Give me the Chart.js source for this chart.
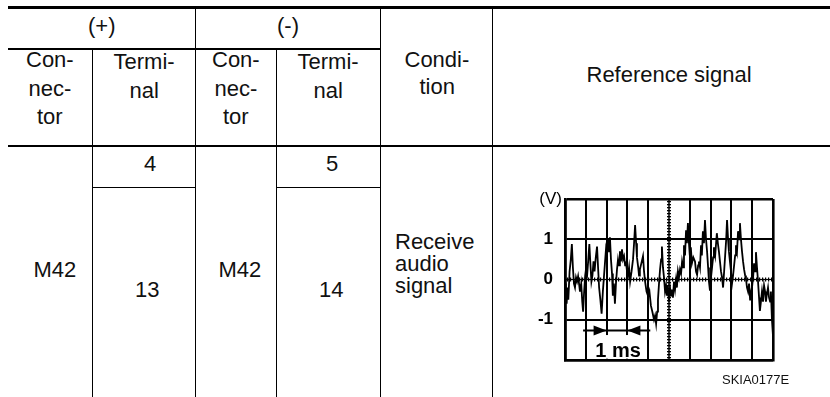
<!DOCTYPE html>
<html>
<head>
<meta charset="utf-8">
<script src="https://cdn.jsdelivr.net/npm/chart.js@4.4.0/dist/chart.umd.min.js"></script>
<style>
  body { margin: 0; background: #fff; }
  #page { position: relative; width: 830px; height: 397px; overflow: hidden; font-family: "Liberation Sans", Arial, sans-serif; color: #111; }
  .ln { position: absolute; background: #000; }
  .t { position: absolute; font-size: 22px; line-height: 22px; white-space: nowrap; }
  #sig { position: absolute; left: 500px; top: 150px; }
</style>
</head>
<body>
<div id="page">
  <canvas id="sig" width="330" height="247"></canvas>
</div>
<script>
// oscilloscope trace, time in ms (1 ms per division), volts
var times = [
  0,0.04,0.08,0.12,0.16,0.22,0.28,0.33,0.38,0.43,
  0.48,0.53,0.58,0.63,0.68,0.72,0.78,0.83,0.87,0.92,
  0.97,1.02,1.07,1.12,1.17,1.22,1.27,1.32,1.37,1.42,
  1.48,1.54,1.59,1.64,1.7,1.76,1.82,1.87,1.92,1.97,
  2.02,2.07,2.12,2.16,2.21,2.26,2.3,2.35,2.4,2.45,
  2.5,2.55,2.6,2.64,2.69,2.74,2.79,2.84,2.89,2.93,
  2.98,3.03,3.08,3.13,3.2,3.27,3.32,3.37,3.42,3.46,
  3.52,3.56,3.6,3.67,3.75,3.8,3.85,3.92,4.0,4.06,
  4.13,4.2,4.28,4.33,4.38,4.43,4.47,4.52,4.57,4.62,
  4.66,4.71,4.76,4.81,4.86,4.9,4.95,5.0,5.05,5.1,
  5.14,5.19,5.24,5.29,5.34,5.38,5.43,5.48,5.53,5.58,
  5.63,5.68,5.72,5.77,5.82,5.86,5.91,5.96,6.0,6.05,
  6.1,6.17,6.25,6.3,6.35,6.4,6.44,6.49,6.54,6.58,
  6.63,6.68,6.73,6.78,6.83,6.88,6.92,6.97,7.02,7.07,
  7.12,7.16,7.22,7.3,7.35,7.4,7.45,7.5,7.55,7.6,
  7.65,7.7,7.75,7.79,7.84,7.88,7.93,7.98,8.03,8.08,
  8.13,8.18,8.22,8.27,8.32,8.37,8.41,8.46,8.51,8.56,
  8.61,8.66,8.7,8.75,8.8,8.85,8.9,8.95,9.0,9.05,
  9.09,9.14,9.18,9.23,9.28,9.33,9.37,9.42,9.47,9.52,
  9.57,9.62,9.66,9.71,9.76,9.81,9.86,9.9,9.95,10];
var volts = [
  -0.1,-0.45,-0.6,-0.2,-0.5,0.2,0.5,0.88,0.3,-0.1,
  -0.2,0.05,-0.05,0.08,-0.12,-0.3,-0.1,-0.55,-0.8,-0.3,
  0.1,0.3,0.15,0.5,0.88,0.4,-0.05,0.1,0.45,0.2,
  0.55,0.82,0.3,-0.2,-0.5,-0.85,-0.3,0.05,0.4,0.75,
  0.6,1.02,0.7,1.05,0.5,0.15,-0.4,-0.1,-0.6,-0.1,
  0.25,0.5,0.35,0.7,0.45,0.75,0.5,0.58,0.35,0.45,
  0.2,0.1,0.3,-0.05,0.2,0.5,0.9,1.35,0.9,0.55,
  0.3,0.1,0.25,0.4,0.58,0.2,-0.05,-0.3,-0.42,-0.3,
  -0.65,-0.8,-1.0,-0.9,-1.1,-0.8,-0.5,-0.1,0.25,0.5,
  0.82,0.3,0.05,-0.3,-0.15,-0.4,-0.25,-0.55,-0.2,-0.4,
  -0.25,-0.45,-0.05,-0.25,0,-0.2,0.2,0.05,0.25,0.15,
  0.45,0.3,0.85,0.6,1.22,0.9,1.4,0.9,0.6,0.8,
  0.4,0.55,0.45,0.2,0.12,0.35,0.45,0.3,0.85,0.6,
  1.2,0.9,1.48,1.0,0.7,0.3,-0.05,-0.28,0.05,0.3,
  0.55,0.8,0.6,1.15,0.9,0.7,0.45,0.2,0.05,-0.2,
  0.2,0.6,1.0,1.48,1.0,0.7,0.45,0.2,-0.1,0.1,
  0.35,0.6,0.85,0.7,1.2,1.0,1.4,1.0,0.7,0.45,
  0.25,0.1,0.02,-0.2,-0.3,-0.1,-0.52,-0.3,-0.15,0.1,
  0.4,0.2,0.68,0.3,-0.05,-0.45,-0.78,-0.55,-0.3,-0.55,
  -0.15,-0.3,-0.55,-0.35,-0.2,-0.45,-0.55,-0.3,-1.0,-1.4];
var voltLabels = [1, 0, -1];

// table text: [text, x, baseline, align]
var cells = [
  ['(+)', 102, 34, 'c'], ['(-)', 288, 34, 'c'],
  ['Con-', 50, 68, 'c'], ['nec-', 50, 97, 'c'], ['tor', 50, 125, 'c'],
  ['Termi-', 144, 70, 'c'], ['nal', 144, 99, 'c'],
  ['Con-', 236, 68, 'c'], ['nec-', 236, 97, 'c'], ['tor', 236, 125, 'c'],
  ['Termi-', 328, 70, 'c'], ['nal', 328, 99, 'c'],
  ['Condi-', 437, 68, 'c'], ['tion', 437, 95, 'c'],
  ['Reference signal', 669, 83, 'c'],
  ['4', 150, 172, 'c'], ['5', 332, 172, 'c'],
  ['M42', 55, 278, 'c'], ['13', 147, 298, 'c'],
  ['M42', 240, 278, 'c'], ['14', 331, 298, 'c'],
  ['Receive', 395, 250, 'l'], ['audio', 395, 272, 'l'], ['signal', 395, 294, 'l']
];
// rules: [left, top, width, height]
var rules = [
  [8, 6, 822, 3], [8, 48, 372, 1.7], [8, 144.5, 822, 2.3],
  [92, 186.5, 103, 1.5], [276, 186.5, 104, 1.5],
  [91.5, 48, 1.7, 349], [194.5, 8, 1.7, 389], [275.5, 48, 1.7, 349],
  [379.5, 8, 1.7, 389], [491.5, 8, 1.7, 389]
];

var page = document.getElementById('page');
rules.forEach(function (r) {
  var d = document.createElement('div');
  d.className = 'ln';
  d.style.left = r[0] + 'px'; d.style.top = r[1] + 'px';
  d.style.width = r[2] + 'px'; d.style.height = r[3] + 'px';
  page.appendChild(d);
});
cells.forEach(function (c) {
  var d = document.createElement('div');
  d.className = 't';
  d.textContent = c[0];
  d.style.top = (c[2] - 18.6) + 'px';
  page.appendChild(d);
  if (c[3] === 'c') d.style.left = (c[1] - d.offsetWidth / 2) + 'px';
  else d.style.left = c[1] + 'px';
});
var code = document.createElement('div');
code.className = 't';
code.style.fontSize = '13px'; code.style.lineHeight = '13px';
code.textContent = 'SKIA0177E';
code.style.top = (384 - 11) + 'px';
page.appendChild(code);
code.style.left = (789 - code.offsetWidth) + 'px';

// extras on the scope face: dotted centre lines, 1 ms marker, (V)
var scopePlugin = {
  id: 'scope',
  beforeDatasetsDraw: function (chart) {
    var ctx = chart.ctx, xs = chart.scales.x, ys = chart.scales.y, a = chart.chartArea;
    ctx.save();
    ctx.fillStyle = '#000';
    var cx = xs.getPixelForValue(5), cy = ys.getPixelForValue(0);
    ctx.fillRect(cx - 0.75, a.top, 1.5, a.bottom - a.top);
    for (var y = a.top + 2; y < a.bottom; y += 3) ctx.fillRect(cx - 2, y, 4, 1.3);
    ctx.fillRect(a.left, cy - 0.6, a.right - a.left, 1.2);
    for (var x = a.left + 2; x < a.right; x += 3) ctx.fillRect(x, cy - 2, 1.2, 4);

    // white label box
    var bx0 = xs.getPixelForValue(1) + 1.2, bx1 = xs.getPixelForValue(4) - 1.2;
    var by0 = ys.getPixelForValue(-1.38), by1 = a.bottom - 1.3;
    ctx.fillStyle = '#fff';
    ctx.fillRect(bx0, by0, bx1 - bx0, by1 - by0);
    ctx.fillStyle = '#000';
    ctx.font = 'bold 20px "Liberation Sans", Arial, sans-serif';
    ctx.textAlign = 'center';
    ctx.textBaseline = 'alphabetic';
    ctx.fillText('1 ms', (bx0 + bx1) / 2 + 1, a.bottom - 3);

    // arrows
    var ay = ys.getPixelForValue(-1.27);
    ctx.strokeStyle = '#000';
    ctx.lineWidth = 2;
    ctx.beginPath();
    ctx.moveTo(xs.getPixelForValue(0.87), ay);
    ctx.lineTo(xs.getPixelForValue(4.1), ay);
    ctx.stroke();
    var t1 = xs.getPixelForValue(2), t2 = xs.getPixelForValue(3);
    ctx.beginPath();
    ctx.moveTo(t1, ay); ctx.lineTo(t1 - 13, ay - 5); ctx.lineTo(t1 - 13, ay + 5); ctx.closePath();
    ctx.moveTo(t2, ay); ctx.lineTo(t2 + 13, ay - 5); ctx.lineTo(t2 + 13, ay + 5); ctx.closePath();
    ctx.fill();

    ctx.font = '17px "Liberation Sans", Arial, sans-serif';
    ctx.textAlign = 'right';
    ctx.fillText('(V)', a.left - 3, a.top + 5);
    ctx.restore();
  }
};

function edgeWidth(scale) {
  return function (c) {
    return (c.tick && (c.tick.value === scale.min || c.tick.value === scale.max)) ? 2.6 : 2;
  };
}

new Chart(document.getElementById('sig'), {
  type: 'line',
  data: {
    datasets: [{
      data: times.map(function (t, i) { return { x: t, y: volts[i] }; }),
      borderColor: '#000',
      borderWidth: 1.8,
      pointRadius: 0,
      tension: 0,
      fill: false
    }]
  },
  options: {
    responsive: false,
    animation: false,
    events: [],
    layout: { padding: { left: 25, right: 57, top: 49, bottom: 37 } },
    plugins: { legend: { display: false }, tooltip: { enabled: false } },
    scales: {
      x: {
        type: 'linear', min: 0, max: 10,
        ticks: { display: false, stepSize: 1 },
        grid: {
          drawTicks: false,
          color: function (c) { return c.tick && c.tick.value === 5 ? 'rgba(0,0,0,0)' : '#000'; },
          lineWidth: edgeWidth({ min: 0, max: 10 })
        },
        border: { display: true, color: '#000', width: 2.6 },
        afterFit: function (s) { s.height = 0; }
      },
      y: {
        min: -2, max: 2,
        ticks: {
          stepSize: 0.5,
          padding: 12,
          color: '#000',
          font: { family: '"Liberation Sans", Arial, sans-serif', size: 17, weight: 'bold' },
          callback: function (v) { return voltLabels.indexOf(v) >= 0 ? String(v) : ''; }
        },
        grid: {
          drawTicks: false,
          color: function (c) { return c.tick && c.tick.value === 0 ? 'rgba(0,0,0,0)' : '#000'; },
          lineWidth: edgeWidth({ min: -2, max: 2 })
        },
        border: { display: true, color: '#000', width: 2.6 },
        afterFit: function (s) { s.width = 40; }
      }
    }
  },
  plugins: [scopePlugin]
});
</script>
</body>
</html>
